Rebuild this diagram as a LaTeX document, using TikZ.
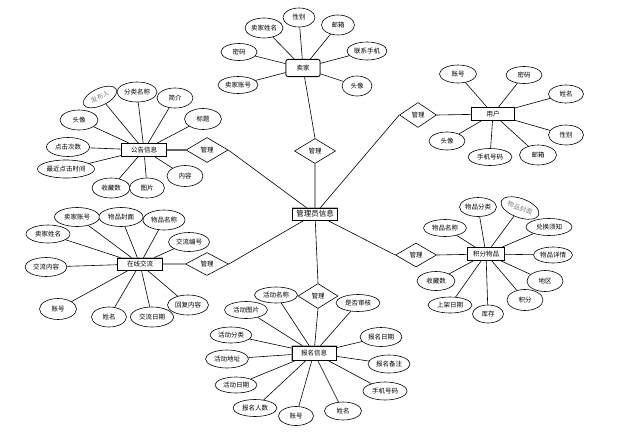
\documentclass[tikz,border=0pt]{standalone}
\usepackage{fontspec}
\setmainfont{Noto Sans CJK SC}
\usetikzlibrary{shapes.geometric}

\begin{document}
\begin{tikzpicture}[x=1pt,y=-1pt,line width=0.6pt,
attr/.style={ellipse,draw,fill=white,inner sep=0pt,minimum width=#1,minimum height=18pt,font=\fontsize{6.5}{7}\selectfont},
attr/.default=40pt,
ent/.style={rectangle,draw,line width=0.7pt,fill=white,inner sep=1pt,minimum width=44pt,minimum height=13pt,font=\fontsize{6.5}{7}\selectfont,preaction={draw=gray!55,line width=1.8pt}},
rel/.style={diamond,draw,fill=white,aspect=1.6,inner sep=0pt,minimum width=41pt,minimum height=25pt,font=\fontsize{6.5}{7}\selectfont},
tilted/.style={attr=#1,text=gray}]
\useasboundingbox (0,0) rectangle (626,434);
% seller
\node[ent,rounded corners=2pt,minimum width=34pt,minimum height=17pt] (seller) at (303,68) {卖家};
\node[attr=38pt,minimum height=20pt] (sname) at (264,28) {卖家姓名};
\node[attr=32pt,minimum height=19pt] (ssex) at (299,17.5) {性别};
\node[attr=33pt,minimum height=20pt] (smail) at (338,25) {邮箱};
\node[attr=40pt] (sphone) at (367,51) {联系手机};
\node[attr=30pt,minimum height=20pt] (shead) at (357,86) {头像};
\node[attr=36pt,minimum height=17pt] (spwd) at (239,52) {密码};
\node[attr=40pt,minimum height=17pt] (sacc) at (238,85) {卖家账号};
\node[rel] (sellerdia) at (315,151) {管理};
% user
\node[ent,minimum width=43pt] (user) at (493,114) {用户};
\node[attr=37pt] (uacc) at (458,74) {账号};
\node[attr=36pt,minimum height=17pt] (upwd) at (524,75) {密码};
\node[attr=35pt] (uname) at (566,94) {姓名};
\node[attr=35pt,minimum height=20pt] (usex) at (566,135) {性别};
\node[attr=37pt,minimum height=20pt] (umail) at (538,155) {邮箱};
\node[attr=44pt,minimum height=17pt] (uphone) at (490,157) {手机号码};
\node[attr=36pt] (uhead) at (447,141) {头像};
\node[rel,minimum width=37pt] (userdia) at (418,115) {管理};
% notice
\node[ent,minimum width=45pt] (notice) at (144,150) {公告信息};
\node[tilted=36pt,rotate=25,minimum height=17pt] (nauthor) at (100,97) {发布人};
\node[attr=40pt,minimum height=20pt] (ncat) at (137,92) {分类名称};
\node[attr=36pt,minimum height=20pt] (nintro) at (175,98) {简介};
\node[attr=37pt,minimum height=21pt] (ntitle) at (203,119) {标题};
\node[attr=38pt,minimum height=20pt] (nhead) at (79,120) {头像};
\node[attr=43pt,minimum height=19pt] (nclick) at (68,147) {点击次数};
\node[attr=57pt] (nlast) at (66,169) {最近点击时间};
\node[attr=38pt,minimum height=20pt] (nfav) at (111,188) {收藏数};
\node[attr=35pt,minimum height=20pt] (npic) at (147,188) {图片};
\node[attr=36pt,minimum height=21pt] (ntext) at (185,176) {内容};
\node[rel,minimum width=42pt] (noticedia) at (207,150) {管理};
% chat
\node[ent,minimum width=45pt,minimum height=12pt] (chat) at (140,264) {在线交流};
\node[attr=45pt,minimum height=19pt] (csacc) at (77,217) {卖家账号};
\node[attr=44pt,minimum height=19pt] (ccover) at (121,217) {物品封面};
\node[attr=42pt,minimum height=20pt] (cgoods) at (164,220) {物品名称};
\node[attr=41pt,minimum height=19pt] (cno) at (189,242) {交流编号};
\node[attr=44pt] (csname) at (48,234) {卖家姓名};
\node[attr=42pt,minimum height=19pt] (ctext) at (46,267) {交流内容};
\node[attr=37pt,minimum height=21pt] (cacc) at (58,309) {账号};
\node[attr=35pt,minimum height=20pt] (cname) at (109,317) {姓名};
\node[attr=43pt,minimum height=20pt] (cdate) at (152,317) {交流日期};
\node[attr=41pt,minimum height=20pt] (creply) at (188,305) {回复内容};
\node[rel,minimum width=43pt,minimum height=23pt] (chatdia) at (207,264) {管理};
% item
\node[ent,minimum width=37pt] (item) at (486,254) {积分物品};
\node[attr=37pt,minimum height=19pt] (icat) at (478,207) {物品分类};
\node[tilted=40pt,rotate=-20,minimum height=19pt] (icover) at (520,208) {物品封面};
\node[attr=46pt,minimum height=17pt] (inote) at (549,227) {兑换须知};
\node[attr=43pt,minimum height=17pt] (iname) at (445,228) {物品名称};
\node[attr=39pt,minimum height=16pt] (idetail) at (553,255) {物品详情};
\node[attr=36pt,minimum height=21pt] (iarea) at (545,281) {地区};
\node[attr=36pt,minimum height=21pt] (ipoint) at (525,300) {积分};
\node[attr=31pt] (istock) at (488,314) {库存};
\node[attr=44pt,minimum height=16pt] (idate) at (450,305) {上架日期};
\node[attr=38pt,minimum height=19pt] (ifav) at (436,281) {收藏数};
\node[rel,minimum width=41pt,minimum height=24pt] (itemdia) at (416,255) {管理};
% sign up
\node[ent,minimum width=44pt,minimum height=14pt] (sign) at (314,353) {报名信息};
\node[attr=43pt,minimum height=16pt] (aname) at (276,295) {活动名称};
\node[attr=44pt,minimum height=17pt] (acheck) at (358,303) {是否审核};
\node[attr=43pt,minimum height=17pt] (apic) at (246,310) {活动图片};
\node[attr=42pt,minimum height=16pt] (acat) at (231,335) {活动分类};
\node[attr=43pt] (aaddr) at (227,359) {活动地址};
\node[attr=42pt,minimum height=16pt] (adate) at (236,385) {活动日期};
\node[attr=44pt,minimum height=17pt] (anum) at (255,408) {报名人数};
\node[attr=35pt,minimum height=19pt] (aacc) at (296,416) {账号};
\node[attr=37pt] (auser) at (343,411) {姓名};
\node[attr=44pt] (aphone) at (385,391) {手机号码};
\node[attr=42pt] (anote) at (389,364) {报名备注};
\node[attr=42pt,minimum height=19pt] (aday) at (381,337) {报名日期};
\node[rel,minimum width=40pt] (signdia) at (318,296) {管理};
% admin
\node[ent,minimum width=45pt,minimum height=12pt,font=\fontsize{7.5}{8}\selectfont] (admin) at (315,214) {管理员信息};

\draw (seller)--(sname) (seller)--(ssex) (seller)--(smail) (seller)--(sphone) (seller)--(shead) (seller)--(spwd) (seller)--(sacc);
\draw (user)--(uacc) (user)--(upwd) (user)--(uname) (user)--(usex) (user)--(umail) (user)--(uphone) (user)--(uhead);
\draw (notice)--(nauthor) (notice)--(ncat) (notice)--(nintro) (notice)--(ntitle) (notice)--(nhead) (notice)--(nclick)
(notice)--(nlast) (notice)--(nfav) (notice)--(npic) (notice)--(ntext);
\draw (chat)--(csacc) (chat)--(ccover) (chat)--(cgoods) (chat)--(cno) (chat)--(csname) (chat)--(ctext)
(chat)--(cacc) (chat)--(cname) (chat)--(cdate) (chat)--(creply);
\draw (item)--(icat) (item)--(icover) (item)--(inote) (item)--(iname) (item)--(idetail) (item)--(iarea)
(item)--(ipoint) (item)--(istock) (item)--(idate) (item)--(ifav);
\draw (sign)--(aname) (sign)--(acheck) (sign)--(apic) (sign)--(acat) (sign)--(aaddr) (sign)--(adate)
(sign)--(anum) (sign)--(aacc) (sign)--(auser) (sign)--(aphone) (sign)--(anote) (sign)--(aday);
\draw (admin)--(sellerdia.south) (sellerdia.north)--(seller)
(admin)--(userdia.west) (userdia.east)--(user)
(admin)--(itemdia.west) (itemdia.east)--(item)
(admin)--(chatdia.east) (chatdia.west)--(chat)
(admin)--(signdia.north) (signdia.south)--(sign)
(admin)--(noticedia.east);
\draw[line width=1.4pt,black!60] (noticedia.west)--(notice);
\end{tikzpicture}
\end{document}
